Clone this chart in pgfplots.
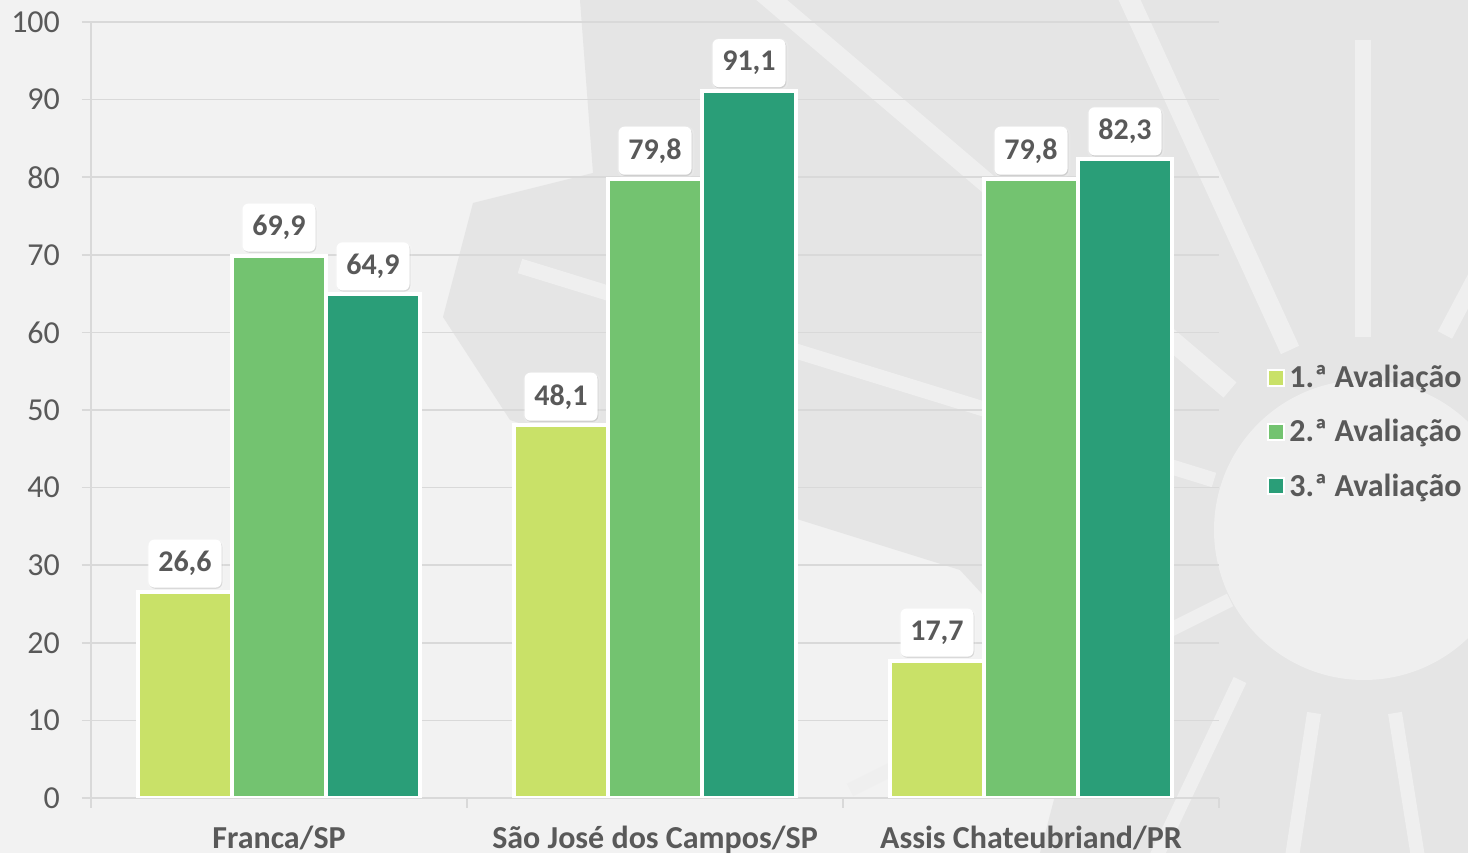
\documentclass[border=0pt]{standalone}
\usepackage{pgfplots}
\pgfplotsset{compat=1.18}
\usetikzlibrary{shadows}
\usepackage{fontspec}
\setmainfont{Carlito}
\definecolor{bgc}{HTML}{F2F2F2}
\definecolor{wm}{HTML}{E5E5E5}
\definecolor{ray}{HTML}{EFEFEF}
\definecolor{cA}{HTML}{C9E168}
\definecolor{cB}{HTML}{73C370}
\definecolor{cC}{HTML}{2A9E78}
\definecolor{txt}{HTML}{595959}
\definecolor{gridc}{HTML}{D9D9D9}
\pgfplotsset{myleg/.style={legend image code/.code={\draw[##1, draw=white, line width=1pt] (0pt,-4pt) rectangle (8pt,4pt);}}}
\begin{document}
\begin{tikzpicture}
\begin{scope}[shift={(-45.5pt,399pt)}, x=0.5pt, y=-0.5pt]
  \useasboundingbox (0,0) rectangle (1468,853);
  \begin{scope}
  \clip (0,0) rectangle (1468,853);
  \fill[bgc] (0,0) rectangle (1468,853);
  \fill[wm] (580,0) -- (1468,0) -- (1468,853) -- (1040,853) -- (1080,700) -- (960,570) -- (800,520) -- (510,420) -- (443,317) -- (473,203) -- (593,173) -- cycle;
  \fill[ray] (1364,530) circle (150);
  \draw[ray, line width=10pt] (760,-10) -- (1230,390);
  \draw[ray, line width=10pt] (1125,-10) -- (1290,350);
  \draw[ray, line width=8pt] (1363,40) -- (1363,337);
  \draw[ray, line width=8pt] (1490,250) -- (1445,335);
  \draw[ray, line width=7.5pt] (520,266) -- (1214,480);
  \draw[ray, line width=7pt] (1240,680) -- (1150,870);
  \draw[ray, line width=7pt] (1314,713) -- (1290,870);
  \draw[ray, line width=7pt] (1395,713) -- (1420,870);
  \draw[ray, line width=7pt] (1230,600) -- (850,790);
  \end{scope}
\end{scope}
\begin{axis}[
  at={(0,0)}, anchor=south west,
  scale only axis, width=564pt, height=388pt,
  xmin=-0.5, xmax=2.5, ymin=0, ymax=100,
  enlargelimits=false,
  ybar=0pt, bar width=0.25,
  axis x line*=bottom, axis y line*=left,
  axis line style={draw=gridc, line width=0.75pt},
  ytick={0,10,...,100},
  ymajorgrids, grid style={draw=gridc, line width=0.75pt},
  xtick={0,1,2},
  xticklabels={Franca/SP, São José dos Campos/SP, Assis Chateubriand/PR},
  minor xtick={-0.5,0.5,1.5,2.5},
  tick align=outside,
  major tick length=4.5pt, minor tick length=5pt,
  tick style={draw=gridc, line width=0.75pt},
  major x tick style={draw=none},
  yticklabel style={font=\fontsize{16}{19}\selectfont, text=txt, xshift=-7.5pt},
  xticklabel style={font=\bfseries\fontsize{16}{19}\selectfont, text=txt, yshift=-6pt},
  /pgf/number format/assume math mode=true,
  nodes near coords={\pgfmathprintnumber[fixed,fixed zerofill,precision=1,use comma,assume math mode=true]{\pgfplotspointmeta}},
  nodes near coords style={font=\bfseries\fontsize{15}{18}\selectfont, text=txt, fill=white, rounded corners=3pt, inner sep=0pt, minimum width=36.5pt, minimum height=24pt, anchor=south, yshift=1pt, drop shadow={shadow xshift=0.4pt, shadow yshift=-0.6pt, opacity=0.12, fill=black}},
  legend style={at={(1.0425,0.4716)}, anchor=west, draw=none, fill=none, font=\bfseries\fontsize{16}{19}\selectfont, text=txt, row sep=10.5pt, inner sep=0pt},
  legend cell align=left,
]
\addplot[fill=cA, draw=white, line width=2pt, myleg] coordinates {(0,26.6) (1,48.1) (2,17.7)};
\addplot[fill=cB, draw=white, line width=2pt, myleg] coordinates {(0,69.9) (1,79.8) (2,79.8)};
\addplot[fill=cC, draw=white, line width=2pt, myleg] coordinates {(0,64.9) (1,91.1) (2,82.3)};
\legend{1.ª Avaliação, 2.ª Avaliação, 3.ª Avaliação}
\end{axis}
\end{tikzpicture}
\end{document}
